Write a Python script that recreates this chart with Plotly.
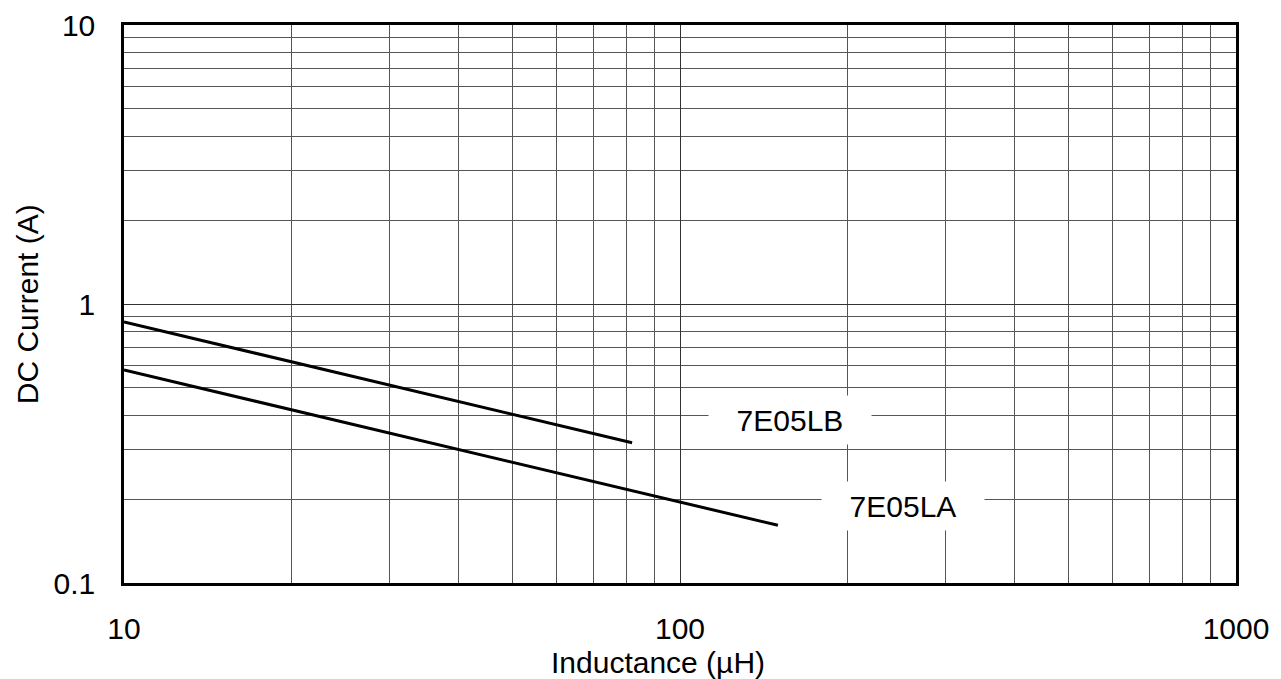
import math
import plotly.graph_objects as go

# Data
lb_inductance = [10, 82]
lb_current = [0.862, 0.318]
la_inductance = [10, 150]
la_current = [0.58, 0.161]

x_tickvals = [10, 100, 1000]
x_ticktext = ["10", "100", "1000"]
y_tickvals = [0.1, 1, 10]
y_ticktext = ["0.1", "1", "10"]

series_names = ["7E05LB", "7E05LA"]
label_pos = [(158, 0.384), (252, 0.189)]

FONT = "Liberation Sans, Arial, sans-serif"
FS = 30

fig = go.Figure()
fig.add_trace(go.Scatter(x=lb_inductance, y=lb_current, mode="lines",
                         line=dict(color="black", width=3), name=series_names[0]))
fig.add_trace(go.Scatter(x=la_inductance, y=la_current, mode="lines",
                         line=dict(color="black", width=3), name=series_names[1]))

for name, (lx, ly) in zip(series_names, label_pos):
    fig.add_annotation(x=math.log10(lx), y=math.log10(ly), xref="x", yref="y",
                       text=name, showarrow=False, bgcolor="white",
                       width=160, height=46,
                       font=dict(family=FONT, size=FS, color="black"))

# axis titles
fig.add_annotation(x=0.48, y=-0.142, xref="paper", yref="paper",
                   text="Inductance (µH)", showarrow=False,
                   xanchor="center", yanchor="middle",
                   font=dict(family=FONT, size=FS, color="black"))
fig.add_annotation(x=-0.087, y=0.5, xref="paper", yref="paper",
                   text="DC Current (A)", showarrow=False, textangle=-90,
                   xanchor="center", yanchor="middle",
                   font=dict(family=FONT, size=FS, color="black"))

axis_common = dict(
    type="log", automargin=False,
    showline=True, linecolor="black", linewidth=2.5, mirror=True,
    showgrid=True, gridcolor="#333333", gridwidth=1,
    ticks="", zeroline=False,
    tickfont=dict(family=FONT, size=FS, color="black"),
)

fig.update_xaxes(**axis_common, range=[1, 3],
                 tickvals=x_tickvals, ticktext=x_ticktext,
                 ticklabelstandoff=17,
                 minor=dict(dtick="D1", showgrid=True, gridcolor="#555555", gridwidth=1, ticks=""))
fig.update_yaxes(**axis_common, range=[-1, 1],
                 tickvals=y_tickvals, ticktext=y_ticktext,
                 ticklabelstandoff=20,
                 minor=dict(dtick="D1", showgrid=True, gridcolor="#555555", gridwidth=1, ticks=""))

fig.update_layout(
    width=1281, height=679,
    margin=dict(l=124, r=45, t=25, b=96),
    paper_bgcolor="white", plot_bgcolor="white",
    showlegend=False,
    font=dict(family=FONT, color="black"),
)

fig.write_html("out.html", config={"displayModeBar": False},
               post_script="document.body.style.margin='0';")
